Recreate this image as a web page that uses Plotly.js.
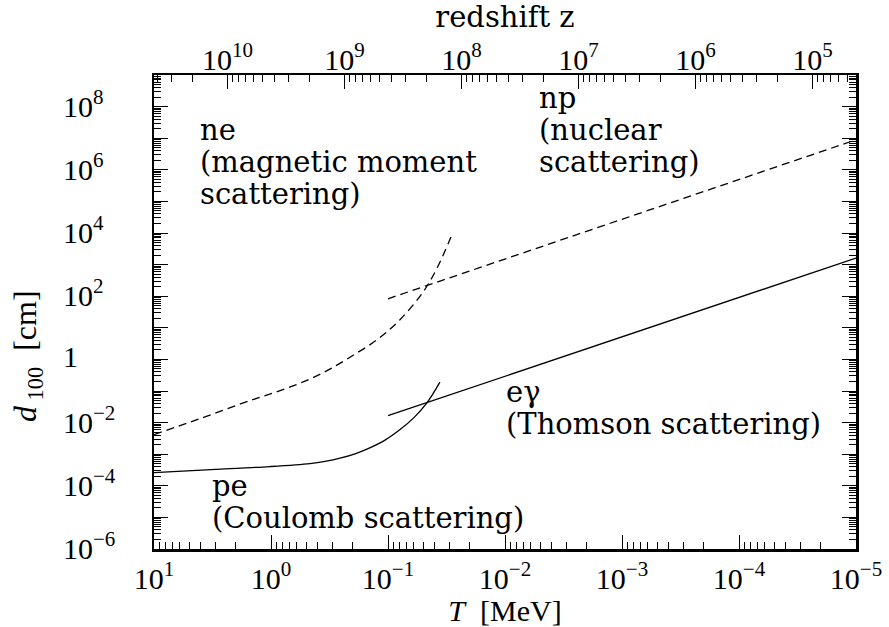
<!DOCTYPE html>
<html>
<head>
<meta charset="utf-8">
<script src="https://cdn.plot.ly/plotly-3.0.1.min.js"></script>
<style>
  html, body { margin: 0; padding: 0; background: #fff; }
  #chart { width: 889px; height: 627px; }
</style>
</head>
<body>
<div id="chart"></div>
<script>
// Temperature grid (MeV) and diffusion length d_100 (cm) for each process
const neT = [10, 4.05, 1.43, 0.838, 0.512, 0.326, 0.2113, 0.124, 0.079, 0.050, 0.038, 0.028];
const neD = [0.00417, 0.01337, 0.0533, 0.1026, 0.2047, 0.456, 1.175, 4.2, 18.0, 138, 794, 10140];

const npT = [0.1, 1e-5];
const npD = [83, 8.9e6];

const egT = [0.1, 1e-5];
const egD = [0.0166, 1610];

const peT = [10, 2.24, 1.02, 0.464, 0.3455, 0.257, 0.1914, 0.148, 0.106, 0.0789, 0.06, 0.0465, 0.036];
const peD = [2.62e-4, 3.5e-4, 4.06e-4, 5.05e-4, 5.93e-4, 7.48e-4, 1.03e-3, 1.5e-3, 2.79e-3, 6.0e-3, 0.01436, 0.0419, 0.19];

// Axis ticks
const tTickVals = [10, 1, 0.1, 0.01, 1e-3, 1e-4, 1e-5];
const tTickText = ['10<sup>1</sup>', '10<sup>0</sup>', '10<sup>\u22121</sup>', '10<sup>\u22122</sup>',
                   '10<sup>\u22123</sup>', '10<sup>\u22124</sup>', '10<sup>\u22125</sup>'];
const zTickVals = [1e10, 1e9, 1e8, 1e7, 1e6, 1e5];
const zTickText = ['10<sup>10</sup>', '10<sup>9</sup>', '10<sup>8</sup>', '10<sup>7</sup>',
                   '10<sup>6</sup>', '10<sup>5</sup>'];
const dLabelVals = [1e-6, 1e-4, 1e-2, 1, 1e2, 1e4, 1e6, 1e8];
const dLabelText = ['10<sup>\u22126</sup>', '10<sup>\u22124</sup>', '10<sup>\u22122</sup>', '1',
                    '10<sup>2</sup>', '10<sup>4</sup>', '10<sup>6</sup>', '10<sup>8</sup>'];

// Present-day photon temperature in MeV (T = T0 * (1+z))
const T0 = 2.35e-10;
const tMin = 1e-5, tMax = 10;
const dMin = 1e-6, dMax = 1e9;

function decades(lo, hi) {
  const out = [];
  for (let e = Math.floor(Math.log10(lo)); e <= Math.ceil(Math.log10(hi)); e++) out.push(Math.pow(10, e));
  return out.filter(v => v >= lo * 0.999 && v <= hi * 1.001);
}
function minors(lo, hi) {
  const out = [];
  for (let e = Math.floor(Math.log10(lo)); e <= Math.ceil(Math.log10(hi)); e++) {
    for (let m = 2; m <= 9; m++) {
      const v = m * Math.pow(10, e);
      if (v > lo && v < hi) out.push(v);
    }
  }
  return out;
}

const serif = 'Liberation Serif, DejaVu Serif, serif';
const wideSerif = 'DejaVu Serif, Liberation Serif, serif';

const line = { color: '#000', width: 1.3 };
const dashed = Object.assign({}, line, { dash: '8px,5px' });

const traces = [
  { x: neT, y: neD, mode: 'lines', line: Object.assign({ shape: 'spline', smoothing: 1 }, dashed), name: 'ne' },
  { x: npT, y: npD, mode: 'lines', line: dashed, name: 'np' },
  { x: egT, y: egD, mode: 'lines', line: line, name: 'e\u03b3' },
  { x: peT, y: peD, mode: 'lines', line: Object.assign({ shape: 'spline', smoothing: 1 }, line), name: 'pe' },
  // carries the redshift axis along the top
  { x: [], y: [], xaxis: 'x2', yaxis: 'y', mode: 'lines', hoverinfo: 'skip', name: 'z' }
];

const L = 154, R = 856, TOP = 75, BOT = 549;
const W = R - L, H = BOT - TOP;
const px = x => (x - L) / W;
const py = y => (BOT - y) / H;

const notes = [];
function note(text, x, y) {
  notes.push({ text: text, xref: 'paper', yref: 'paper', x: px(x), y: py(y),
    xanchor: 'left', yanchor: 'middle', showarrow: false,
    font: { family: wideSerif, size: 29, color: '#000' } });
}
note('ne', 198, 130);
note('(magnetic moment', 198, 162);
note('scattering)', 198, 194);
note('np', 537, 98);
note('(nuclear', 537, 130);
note('scattering)', 537, 162);
note('e\u03b3', 504, 392);
note('(Thomson scattering)', 504, 424);
note('pe', 210, 486);
note('(Coulomb scattering)', 210, 518);

// left-aligned labels of the d_100 axis
dLabelVals.forEach((v, i) => {
  notes.push({ text: dLabelText[i], xref: 'paper', yref: 'y', x: px(61), y: Math.log10(v),
    xanchor: 'left', yanchor: 'middle', yshift: 3, showarrow: false,
    font: { family: serif, size: 30, color: '#000' } });
});
notes.push({ text: '<i>d</i><sub> 100</sub>  [cm]', xref: 'paper', yref: 'paper',
  x: px(27), y: py(356), xanchor: 'center', yanchor: 'middle', textangle: -90,
  showarrow: false, font: { family: serif, size: 32, color: '#000' } });

const tickCommon = {
  ticks: 'inside', ticklen: 14, tickwidth: 1, tickcolor: '#000',
  showgrid: false, zeroline: false
};

const layout = {
  width: 889, height: 627,
  margin: { l: L, r: 889 - R, t: TOP, b: 627 - BOT, pad: 0 },
  paper_bgcolor: '#fff', plot_bgcolor: '#fff',
  showlegend: false,
  font: { family: serif, color: '#000' },
  xaxis: Object.assign({}, tickCommon, {
    type: 'log', autorange: false, range: [Math.log10(tMax), Math.log10(tMin)],
    tickmode: 'array', tickvals: tTickVals, ticktext: tTickText,
    tickfont: { family: serif, size: 30 }, ticklabelstandoff: 1,
    showline: true, linewidth: 2.5, linecolor: '#000', mirror: true,
    minor: { tickmode: 'array', tickvals: minors(tMin, tMax), ticks: 'inside', ticklen: 7, tickwidth: 1, tickcolor: '#000' },
    title: { text: '<i>T</i>  [MeV]', font: { family: serif, size: 30 }, standoff: 0 }
  }),
  xaxis2: Object.assign({}, tickCommon, {
    type: 'log', overlaying: 'x', side: 'top', anchor: 'y', autorange: false,
    range: [Math.log10(tMax / T0), Math.log10(tMin / T0)],
    tickmode: 'array', tickvals: zTickVals, ticktext: zTickText,
    tickfont: { family: serif, size: 30 }, ticklabelstandoff: -2,
    showline: false,
    minor: { tickmode: 'array', tickvals: minors(tMin / T0, tMax / T0), ticks: 'inside', ticklen: 7, tickwidth: 1, tickcolor: '#000' },
    title: { text: 'redshift z', font: { family: wideSerif, size: 29 }, standoff: 2 }
  }),
  yaxis: Object.assign({}, tickCommon, {
    type: 'log', autorange: false, range: [Math.log10(dMin), Math.log10(dMax)],
    tickmode: 'array', tickvals: decades(dMin, dMax), showticklabels: false,
    showline: true, linewidth: 2.5, linecolor: '#000', mirror: 'ticks',
    minor: { tickmode: 'array', tickvals: minors(dMin, dMax), ticks: 'inside', ticklen: 7, tickwidth: 1, tickcolor: '#000' }
  }),
  annotations: notes
};

Plotly.newPlot('chart', traces, layout, { staticPlot: true, displayModeBar: false });
</script>
</body>
</html>
